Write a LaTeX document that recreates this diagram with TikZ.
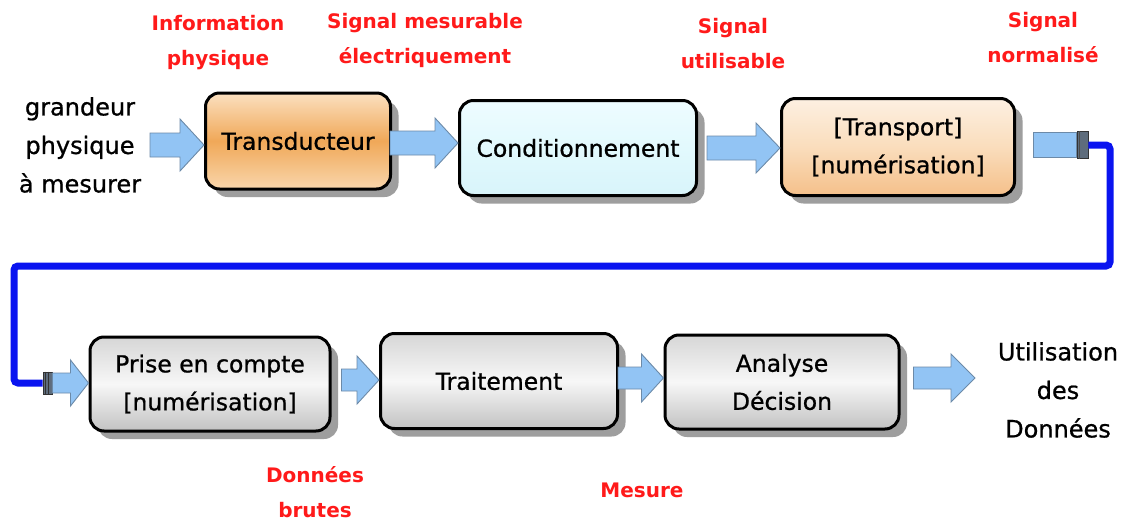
\documentclass[tikz,border=0pt]{standalone}
\usepackage{fontspec}
\setmainfont{DejaVu Sans}
\newfontfamily\medf{DejaVu Sans}[FakeBold=0.8]
\usetikzlibrary{calc,shadows}
\definecolor{arrowblue}{HTML}{92C4F4}
\definecolor{arrowline}{HTML}{6C8AA8}
\definecolor{busblue}{HTML}{0A14F0}
\definecolor{capgray}{HTML}{5E6C7C}
\definecolor{labred}{HTML}{FF1A1A}
\newcommand\fatarr[5]{%
  \draw[fat] let \p1=(#1), \p2=(#2) in
    (\x1,\y1+#3) -- (\x2-#5,\y1+#3) -- (\x2-#5,\y1+#4) -- (\x2,\y1)
    -- (\x2-#5,\y1-#4) -- (\x2-#5,\y1-#3) -- (\x1,\y1-#3) -- cycle;}
\tikzset{
  blk/.style={draw=black, line width=3pt, rounded corners=14pt, align=center,
    inner sep=0pt, font=\medf\fontsize{23.5}{38}\selectfont,
    drop shadow={shadow xshift=8pt, shadow yshift=-8pt, fill=black!38, opacity=1}},
  orangebox/.style={top color=OrTop, bottom color=OrBot, middle color=OrMid},
  cyanbox/.style={top color=CyTop, bottom color=CyBot, middle color=CyMid},
  peachbox/.style={top color=PeTop, bottom color=PeBot, middle color=PeMid},
  graybox/.style={top color=GrTop, bottom color=GrBot, middle color=GrMid},
  lbl/.style={text=labred, align=center, font=\fontsize{20}{35}\selectfont\bfseries},
  side/.style={align=center, font=\medf\fontsize{24}{38.5}\selectfont},
  fat/.style={draw=arrowline, fill=arrowblue, line width=0.9pt, line join=miter},
  capbox/.style={draw=black!80, fill=capgray, line width=0.8pt, inner sep=0pt},
  bus/.style={draw=busblue, line width=7pt, rounded corners=4pt}
}
\definecolor{OrTop}{HTML}{FBE0C0}
\definecolor{OrMid}{HTML}{F0A858}
\definecolor{OrBot}{HTML}{F9D6AC}
\definecolor{CyTop}{HTML}{EEFCFF}
\definecolor{CyMid}{HTML}{E2F9FD}
\definecolor{CyBot}{HTML}{D8F4FA}
\definecolor{PeTop}{HTML}{FDF0E2}
\definecolor{PeMid}{HTML}{FADDBC}
\definecolor{PeBot}{HTML}{F5C08A}
\definecolor{GrTop}{HTML}{D6D6D6}
\definecolor{GrMid}{HTML}{F7F7F7}
\definecolor{GrBot}{HTML}{C2C2C2}
\begin{document}
\begin{tikzpicture}[x=1pt,y=-1pt]
\useasboundingbox[fill=white] (0,0) rectangle (1136,522);
% boxes
\node[blk, orangebox, minimum width=185pt, minimum height=96pt] (T) at (298,141) {Transducteur};
\node[blk, cyanbox, minimum width=237pt, minimum height=95pt] (C) at (578,148) {Conditionnement};
\node[blk, peachbox, minimum width=233pt, minimum height=97pt] (TR) at (898,147) {[Transport]\\{}[numérisation]};
\node[blk, graybox, minimum width=240pt, minimum height=94pt] (P) at (210,384) {Prise en compte\\{}[numérisation]};
\node[blk, graybox, minimum width=237pt, minimum height=95pt] (TT) at (499,381) {Traitement};
\node[blk, graybox, minimum width=234pt, minimum height=94pt] (A) at (782,382) {Analyse\\Décision};
% side texts
\node[side] (gp) at (80,145) {grandeur\\physique\\à mesurer};
\node[side] (ud) at (1058,390) {Utilisation\\des\\Données};
% red labels
\node[lbl] (l1) at (218,43) {Information\\physique};
\node[lbl] (l2) at (425,40) {Signal mesurable\\électriquement};
\node[lbl] (l3) at (733,44) {Signal\\utilisable};
\node[lbl] (l4) at (1043,38) {Signal\\normalisé};
\node[lbl] (l5) at (315,492) {Données\\brutes};
\node[lbl] (l6) at (642,490) {Mesure};
% coordinates
\coordinate (in) at (150,145);
\coordinate (t1) at ($(T.east)+(-2,2)$);
\coordinate (c1) at ($(C.east)+(9,0)$);
\coordinate (p1) at ($(P.east)+(10,-4)$);
\coordinate (tt1) at ($(TT.east)+(-1,-3)$);
\coordinate (a1) at ($(A.east)+(13,-4)$);
\coordinate (uout) at (975,378);
% arrows
\fatarr{in}{T.west}{12pt}{26pt}{24pt}
\fatarr{t1}{C.west}{12pt}{25pt}{23pt}
\fatarr{c1}{TR.west}{12pt}{25pt}{24pt}
\fatarr{p1}{TT.west}{11pt}{24pt}{22pt}
\fatarr{tt1}{A.west}{11pt}{24pt}{22pt}
\fatarr{a1}{uout}{11pt}{24pt}{24pt}
% output of transport with cap and bus
\node[capbox, minimum width=11pt, minimum height=27pt] (k1) at (1082.5,145) {};
\draw[fat] (1033,132.5) rectangle (k1.west |- 0,157.5);
\draw[black!70, line width=0.8pt] ($(k1.north west)+(3,0)$) -- ($(k1.south west)+(3,0)$);
\node[capbox, minimum width=9pt, minimum height=22pt] (k2) at (47.5,383) {};
\draw[black!80, line width=0.8pt] ($(k2.north west)+(3,0)$) -- ($(k2.south west)+(3,0)$)
  ($(k2.north west)+(6,0)$) -- ($(k2.south west)+(6,0)$);
\draw[bus] (k1.east) -- (1110,145) -- (1110,266) -- (14,266) |- (k2.west);
\fatarr{k2.east}{P.west}{10pt}{23pt}{18pt}
\end{tikzpicture}
\end{document}
